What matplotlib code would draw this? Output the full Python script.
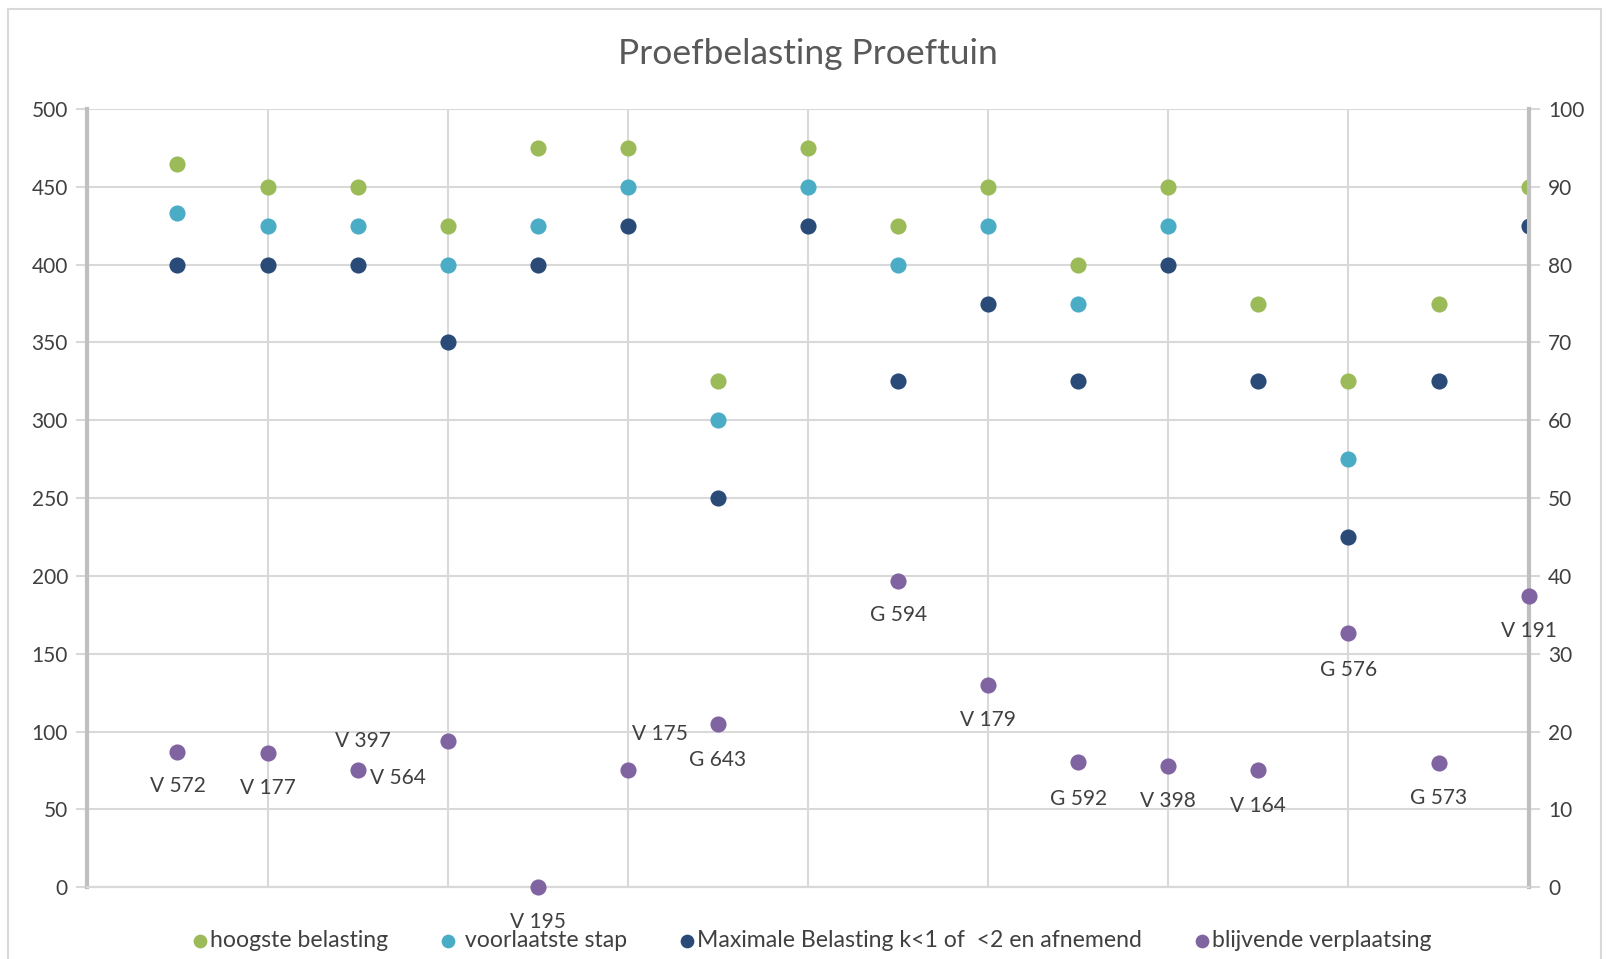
import numpy as np
import matplotlib.pyplot as plt
from matplotlib.patches import Rectangle

plt.rcParams['font.family'] = ['Lato', 'DejaVu Sans']

# meetpunten 1..16
x = np.arange(1, 17)

hoogste = [465, 450, 450, 425, 475, 475, 325, 475, 425, 450, 400, 450, 375, 325, 375, 450]
voorlaatste = [433, 425, 425, 400, 425, 450, 300, 450, 400, 425, 375, 425, np.nan, 275, np.nan, np.nan]
maximaal = [400, 400, 400, 350, 400, 425, 250, 425, 325, 375, 325, 400, 325, 225, 325, 425]
verplaatsing = [17.4, 17.2, 15.1, 18.8, 0.0, 15.1, 21.0, np.nan, 39.4, 26.0, 16.1, 15.6, 15.1, 32.6, 15.9, 37.4]
namen = ['V 572', 'V 177', 'V 397', 'V 564', 'V 195', 'V 175', 'G 643', '',
         'G 594', 'V 179', 'G 592', 'V 398', 'V 164', 'G 576', 'G 573', 'V 191']

# label offsets (punten)
offsets = [(0, -25), (0, -25), (4, 21), (-36, -27), (0, -25), (23, 26), (0, -26), (0, 0),
           (0, -25), (0, -25), (0, -27), (0, -25), (0, -26), (0, -26), (0, -25), (0, -25)]

groen = '#9bbb59'
cyaan = '#4bacc6'
blauw = '#2a4a78'
paars = '#8064a2'
tekst = '#595959'
donker = '#404040'

fig = plt.figure(figsize=(16.12, 9.59), dpi=100)
fig.patches.append(Rectangle((0.005, -0.02), 0.988, 1.011, transform=fig.transFigure,
                             fill=False, edgecolor='#d9d9d9', linewidth=1.5))
ax = fig.add_axes([0.0542, 0.0749, 0.8941, 0.8114])
ax2 = ax.twinx()

ms = 135
ax.scatter(x, hoogste, s=ms, color=groen, label='hoogste belasting', zorder=3, linewidths=0)
ax.scatter(x, voorlaatste, s=ms, color=cyaan, label=' voorlaatste stap', zorder=3, linewidths=0)
ax.scatter(x, maximaal, s=ms, color=blauw, label='Maximale Belasting k<1 of  <2 en afnemend',
           zorder=3, linewidths=0)
ax2.scatter(x, verplaatsing, s=ms, color=paars, label='blijvende verplaatsing', zorder=3,
            linewidths=0, clip_on=False)

for xi, yi, naam, off in zip(x, verplaatsing, namen, offsets):
    if naam:
        ax2.annotate(naam, (xi, yi), xytext=off, textcoords='offset points',
                     ha='center', va='center', fontsize=15, color=donker)

ax.set_xlim(0, 16)
ax.set_ylim(0, 500)
ax2.set_ylim(0, 100)
ax.set_yticks(np.arange(0, 501, 50))
ax2.set_yticks(np.arange(0, 101, 10))
ax.set_xticks(np.arange(0, 17, 2))
ax.set_xticklabels([])
ax.grid(True, color='#d9d9d9', linewidth=1.5)
ax.set_axisbelow(True)

for a in (ax, ax2):
    a.spines['top'].set_visible(False)
    a.spines['bottom'].set_color('#d9d9d9')
    a.spines['bottom'].set_linewidth(1.5)
    a.tick_params(axis='y', labelsize=15, labelcolor=donker, color='#d9d9d9', length=8, width=1.5, pad=6)
    a.tick_params(axis='x', length=0)
ax.spines['left'].set_color('#bfbfbf')
ax.spines['left'].set_linewidth(3)
ax.spines['right'].set_visible(False)
ax2.spines['left'].set_visible(False)
ax2.spines['right'].set_color('#bfbfbf')
ax2.spines['right'].set_linewidth(3)

fig.text(0.501, 0.944, 'Proefbelasting Proeftuin', ha='center', va='center',
         fontsize=25.5, color=tekst)

h1, l1 = ax.get_legend_handles_labels()
h2, l2 = ax2.get_legend_handles_labels()
fig.legend(h1 + h2, l1 + l2, loc='center', bbox_to_anchor=(0.504, 0.019), ncol=4,
           frameon=False, fontsize=16.6, handlelength=0.6, handletextpad=0.15,
           columnspacing=2.3, markerscale=0.85, labelcolor=donker)

fig.savefig('out.png', dpi=100)
